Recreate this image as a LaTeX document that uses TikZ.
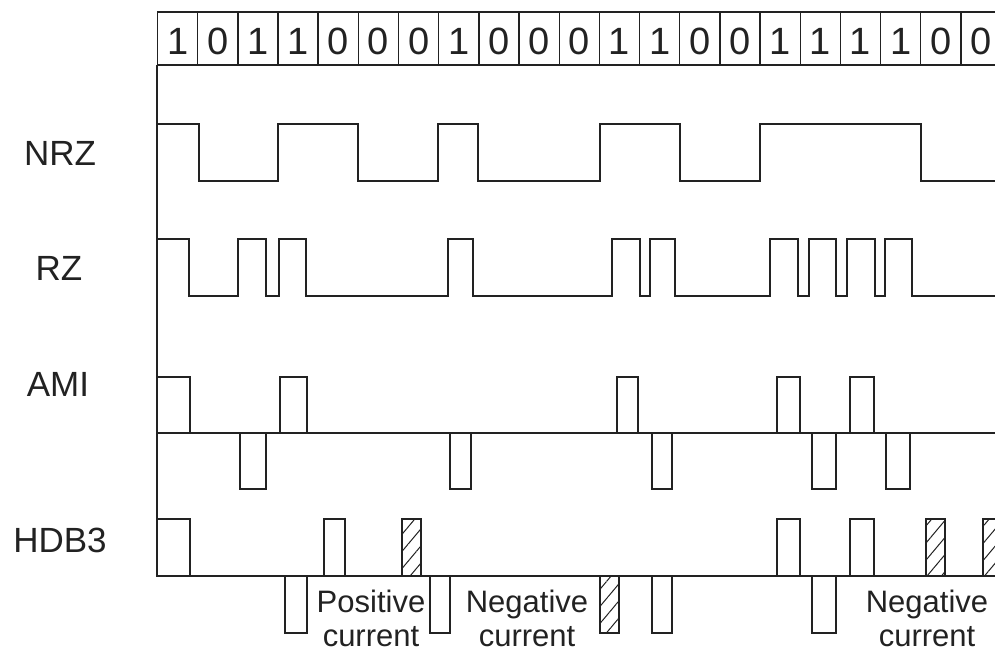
\documentclass[tikz,border=0pt]{standalone}
\usepackage{fontspec}
\setmainfont{Liberation Sans}
\usetikzlibrary{patterns.meta}
\definecolor{ink}{HTML}{222222}
\tikzset{
  wave/.style={draw=ink, line width=1.4pt, line join=miter},
  pulse/.style={draw=ink, line width=1.4pt, fill=white},
  hatched/.style={draw=ink, line width=1.4pt, pattern={Lines[angle=50,distance=11pt,line width=1pt]}, pattern color=ink},
  cell/.style={draw=ink, line width=1.4pt},
  digit/.style={text=ink, font=\fontsize{38}{40}\selectfont, inner sep=0pt},
  rowlabel/.style={text=ink, font=\fontsize{35}{38}\selectfont, inner sep=0pt, anchor=base},
  note/.style={text=ink, font=\fontsize{31}{34}\selectfont, inner sep=0pt, align=center, anchor=base}
}
\begin{document}
\begin{tikzpicture}[x=1pt,y=-1pt]
\useasboundingbox (0,0) rectangle (995,654);
\fill[white] (0,0) rectangle (995,654);
\clip (0,0) rectangle (995,654);
% header cells
\foreach \b [count=\i from 0] in {1,0,1,1,0,0,0,1,0,0,0,1,1,0,0,1,1,1,1,0,0} {
  \pgfmathsetmacro{\xa}{157.5+40.17*\i}
  \pgfmathsetmacro{\xb}{157.5+40.17*(\i+1)}
  \draw[cell] (\xa,12) rectangle (\xb,65);
  \node[digit] (d\i) at ({(\xa+\xb)/2},41) {\b};
}
% axis
\draw[wave] (157,65) -- (157,576);
% NRZ
\draw[wave] (157,124) -- (199,124) -- (199,181) -- (278,181) -- (278,124) -- (358,124) -- (358,181) -- (438,181) -- (438,124) -- (478,124) -- (478,181) -- (600,181) -- (600,124) -- (680,124) -- (680,181) -- (760,181) -- (760,124) -- (921,124) -- (921,181) -- (1000,181);
% RZ
\draw[wave] (157,239) -- (189,239) -- (189,296) -- (238,296) -- (238,239) -- (266,239) -- (266,296) -- (279,296) -- (279,239) -- (306,239) -- (306,296) -- (448,296) -- (448,239) -- (473,239) -- (473,296) -- (612,296) -- (612,239) -- (640,239) -- (640,296) -- (650,296) -- (650,239) -- (675,239) -- (675,296) -- (770,296) -- (770,239) -- (798,239) -- (798,296) -- (809,296) -- (809,239) -- (836,239) -- (836,296) -- (847,296) -- (847,239) -- (875,239) -- (875,296) -- (885,296) -- (885,239) -- (912,239) -- (912,296) -- (1000,296);
% AMI
\draw[wave] (157,433) -- (1000,433);
\foreach \a/\b in {157/190, 280/307, 617/638, 777/800, 850/874}
  \draw[pulse] (\a,377) rectangle (\b,433);
\foreach \a/\b in {240/266, 450/471, 652/672, 812/836, 886/910}
  \draw[pulse] (\a,433) rectangle (\b,489);
% HDB3
\draw[wave] (157,576) -- (1000,576);
\foreach \a/\b in {157/190, 324/345, 777/800, 850/874}
  \draw[pulse] (\a,519) rectangle (\b,576);
\foreach \a/\b in {285/307, 430/450, 652/672, 812/836}
  \draw[pulse] (\a,576) rectangle (\b,633);
\foreach \a/\b in {402/421, 926/945, 983/1003}
  \draw[hatched] (\a,519) rectangle (\b,576);
\draw[hatched] (600,576) rectangle (619,633);
% row labels
\node[rowlabel] (lnrz) at (60,165) {NRZ};
\node[rowlabel] (lrz) at (59,280) {RZ};
\node[rowlabel] (lami) at (58,396) {AMI};
\node[rowlabel] (lhdb) at (60,552) {HDB3};
% notes
\node[note] (pos) at (371,646) {Positive\\current};
\node[note] (neg1) at (527,646) {Negative\\current};
\node[note] (neg2) at (927,646) {Negative\\current};
\end{tikzpicture}
\end{document}
